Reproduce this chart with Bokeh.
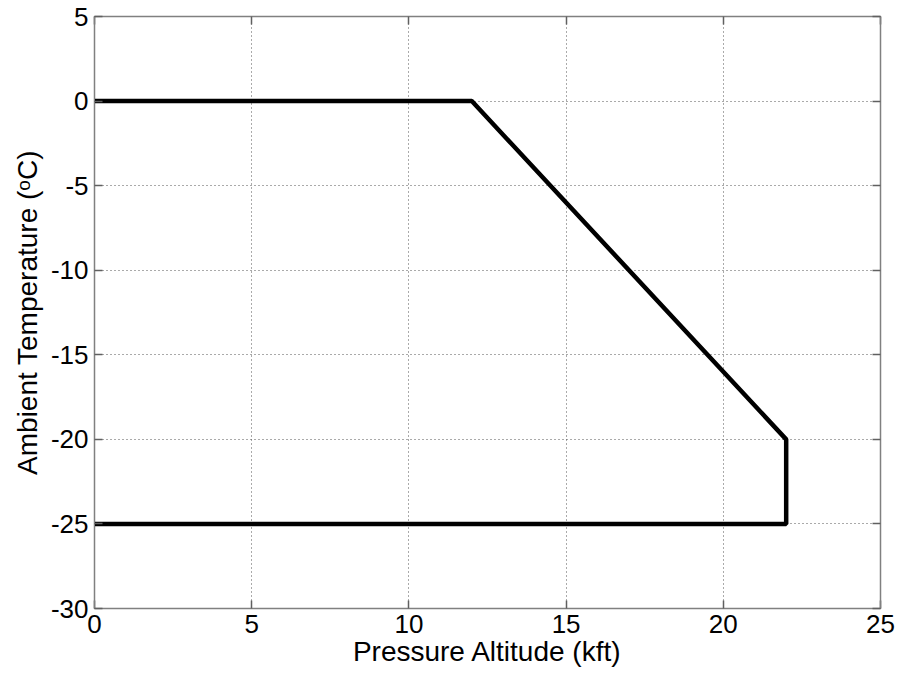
from bokeh.plotting import figure
from bokeh.models import LinearAxis, FixedTicker, Range1d, PrintfTickFormatter, CustomJSTickFormatter
from bokeh.embed import file_html
from bokeh.resources import INLINE

# Data: envelope boundary (Pressure Altitude kft, Ambient Temperature °C)
altitude = [0, 12, 22, 22, 0]
temperature = [0, 0, -20, -25, -25]

x_ticks = [0, 5, 10, 15, 20, 25]
y_ticks = [-30, -25, -20, -15, -10, -5, 0, 5]

FONT = "Liberation Sans"

p = figure(width=900, height=672, output_backend="svg", toolbar_location=None,
           x_range=Range1d(0, 25), y_range=Range1d(-30, 5),
           x_axis_label="Pressure Altitude (kft)",
           y_axis_label="Ambient Temperature (ᵒC)",
           min_border_left=94, min_border_right=20, min_border_top=16, min_border_bottom=64)

p.line(altitude, temperature, line_color="black", line_width=4.5)

p.outline_line_color = "#808080"
p.outline_line_width = 1.5
p.background_fill_color = "white"
p.border_fill_color = "white"

xa = p.xaxis[0]
ya = p.yaxis[0]
for ax in (xa, ya):
    ax.major_tick_in = 8
    ax.major_tick_out = 0
    ax.minor_tick_in = 0
    ax.minor_tick_out = 0
    ax.axis_line_color = "#808080"
    ax.major_tick_line_color = "#606060"
    ax.major_tick_line_width = 1.5
    ax.major_label_text_font = FONT
    ax.major_label_text_font_size = "26px"
    ax.major_label_text_color = "black"
    ax.axis_label_text_font = FONT
    ax.axis_label_text_font_size = "28px"
    ax.axis_label_text_font_style = "normal"
    ax.axis_label_text_color = "black"
    ax.formatter = PrintfTickFormatter(format="%d")

xa.ticker = FixedTicker(ticks=x_ticks)
ya.ticker = FixedTicker(ticks=y_ticks)
xa.major_label_standoff = 6
ya.major_label_standoff = 6
xa.axis_label_standoff = 0
ya.axis_label_standoff = 5

# mirrored ticks on top and right
top = LinearAxis(ticker=FixedTicker(ticks=x_ticks))
right = LinearAxis(ticker=FixedTicker(ticks=y_ticks))
for ax in (top, right):
    ax.major_tick_in = 8
    ax.major_tick_out = 0
    ax.minor_tick_in = 0
    ax.minor_tick_out = 0
    ax.axis_line_color = "#808080"
    ax.major_tick_line_color = "#606060"
    ax.major_tick_line_width = 1.5
    ax.formatter = CustomJSTickFormatter(code="return ''")
    ax.major_label_standoff = 0
p.add_layout(top, "above")
p.add_layout(right, "right")

p.xgrid.ticker = FixedTicker(ticks=x_ticks)
p.ygrid.ticker = FixedTicker(ticks=y_ticks)
for g in (p.xgrid, p.ygrid):
    g.grid_line_color = "#555555"
    g.grid_line_dash = "1 3"
    g.grid_line_width = 1

open("out.html", "w").write(file_html(p, INLINE))
